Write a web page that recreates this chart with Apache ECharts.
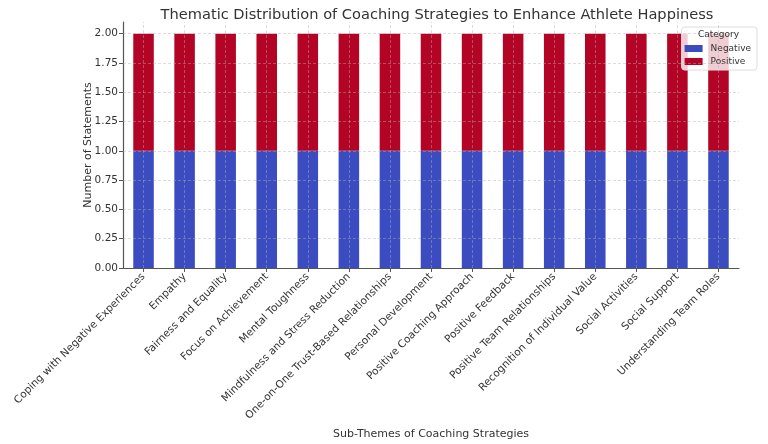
<!DOCTYPE html>
<html><head><meta charset="utf-8">
<script src="https://cdn.jsdelivr.net/npm/echarts@6/dist/echarts.min.js"></script>
<style>html,body{margin:0;padding:0;background:#fff}#c{width:768px;height:444px}</style>
</head><body><div id="c"></div>
<script>
const categories = ["Coping with Negative Experiences","Empathy","Fairness and Equality","Focus on Achievement","Mental Toughness","Mindfulness and Stress Reduction","One-on-One Trust-Based Relationships","Personal Development","Positive Coaching Approach","Positive Feedback","Positive Team Relationships","Recognition of Individual Value","Social Activities","Social Support","Understanding Team Roles"];
const negativeValues = [1,1,1,1,1,1,1,1,1,1,1,1,1,1,1];
const positiveValues = [1,1,1,1,1,1,1,1,1,1,1,1,1,1,1];
const yTicks = [0,0.25,0.5,0.75,1.0,1.25,1.5,1.75,2.0];

const font = 'DejaVu Sans';
const gridStyle = {color:'rgba(176,176,176,0.55)', type:[3,2], width:0.8};
const chart = echarts.init(document.getElementById('c'));
chart.setOption({
  animation:false,
  textStyle:{fontFamily:font},
  title:{text:'Thematic Distribution of Coaching Strategies to Enhance Athlete Happiness',left:432,top:3,textAlign:'center',
    textStyle:{fontFamily:font,fontSize:14.6,fontWeight:'normal',color:'#333'}},
  grid:{left:123,right:29,top:22,bottom:176,outerBoundsMode:'none',containLabel:false},
  legend:{orient:'vertical',right:11,top:27,padding:[16,6,3,3],itemGap:2,itemWidth:18,itemHeight:7,icon:'rect',
    backgroundColor:'rgba(255,255,255,0.8)',borderColor:'#ddd',borderWidth:1,borderRadius:3,
    data:['Negative','Positive'],textStyle:{fontFamily:font,fontSize:9,lineHeight:11,color:'#333',padding:[0,0,0,3]}},
  graphic:[{type:'text',x:718.5,y:35,z:100,style:{text:'Category',fontFamily:font,fontSize:9,fill:'#333',align:'center',verticalAlign:'middle'}}],
  xAxis:{type:'category',data:categories,name:'Sub-Themes of Coaching Strategies',nameLocation:'middle',nameGap:154,
    nameTextStyle:{fontFamily:font,fontSize:11,color:'#333'},
    axisLine:{lineStyle:{color:'#555',width:1.2}},axisTick:{show:true,alignWithLabel:true,length:4,lineStyle:{color:'#555'}},
    axisLabel:{rotate:45,interval:0,fontFamily:font,fontSize:10.5,color:'#333',margin:7},splitLine:{show:false}},
  yAxis:{type:'value',min:0,max:2.1,interval:0.25,name:'Number of Statements',nameLocation:'middle',nameGap:29,nameMoveOverlap:false,
    nameTextStyle:{fontFamily:font,fontSize:11,color:'#333'},
    axisLine:{show:true,lineStyle:{color:'#555',width:1.2}},axisTick:{show:true,length:4,lineStyle:{color:'#555'}},
    axisLabel:{fontFamily:font,fontSize:10.5,color:'#333',showMaxLabel:false,margin:5,formatter:v=>v>2.01?'':v.toFixed(2)},
    splitLine:{show:false}},
  series:[
    {name:'Negative',type:'bar',stack:'s',data:negativeValues,barWidth:'50%',itemStyle:{color:'#3b4cc0'}},
    {name:'Positive',type:'bar',stack:'s',data:positiveValues,barWidth:'50%',itemStyle:{color:'#b40426'},
      markLine:{silent:true,symbol:'none',label:{show:false},lineStyle:gridStyle,animation:false,
        data:[...categories.map(c=>({xAxis:c})),...yTicks.slice(1).map(v=>({yAxis:v}))]}}
  ]
});
</script></body></html>
